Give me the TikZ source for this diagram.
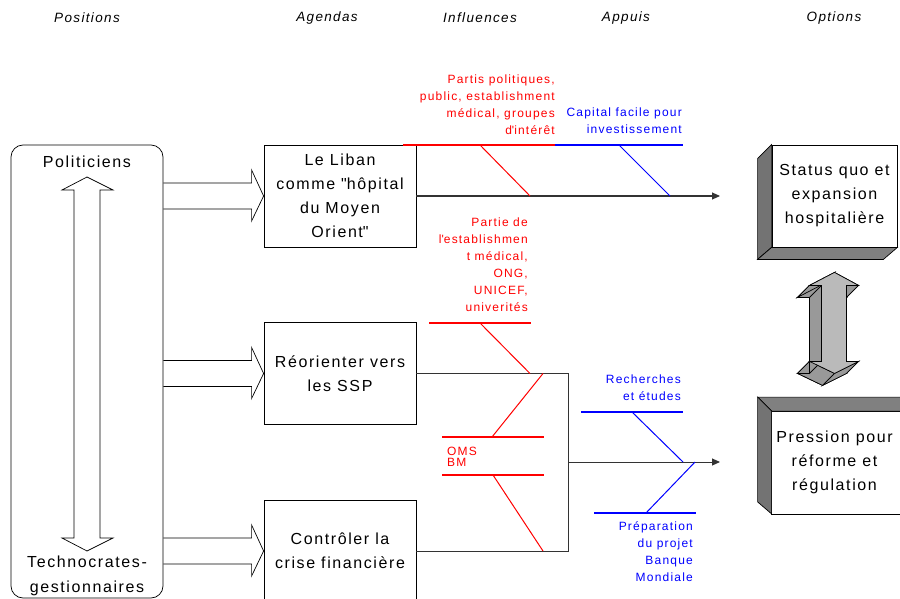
\documentclass[tikz,border=0pt]{standalone}
\usepackage{fontspec}
\setmainfont{Liberation Sans}[LetterSpace=10]
\usetikzlibrary{calc,arrows.meta}

\newcommand{\agendaarrow}[2]{%
  \draw[hollow] ($(#1.east |- #2.west)+(0,-13)$) -- ($(#2.west)+(-12,-13)$)
    -- ($(#2.west)+(-12,-26)$) -- (#2.west) -- ($(#2.west)+(-12,25)$)
    -- ($(#2.west)+(-12,13)$) -- ($(#1.east |- #2.west)+(0,13)$);}

\begin{document}
\begin{tikzpicture}[x=1pt,y=-1pt,
agenda/.style={draw,line width=0.8pt,minimum width=152pt,minimum height=102pt,inner sep=0pt,
  align=center,font=\fontsize{16}{24}\selectfont},
option/.style={draw,fill=white,line width=0.8pt,minimum width=125pt,minimum height=102pt,inner sep=0pt,
  align=center,font=\fontsize{16}{24}\selectfont},
heading/.style={font=\fontsize{13.5}{16}\selectfont\itshape},
actor/.style={font=\fontsize{16}{25}\selectfont,align=center},
hollow/.style={draw,line width=0.7pt},
spine/.style={draw=black!80,line width=1pt},
infl/.style={red,font=\fontsize{12}{17}\selectfont,align=right,anchor=north east,inner sep=0pt},
appui/.style={infl,blue},
bone/.style={line width=1.5pt},
rib/.style={line width=1pt},
face/.style={draw,fill=black!50,line width=0.7pt},
front3/.style={draw,fill=black!27,line width=0.7pt},
side3/.style={draw,fill=black!40,line width=0.7pt}]
\useasboundingbox (0,0) rectangle (900,599);

% titres
\node[heading] (hpos) at (87,18) {Positions};
\node[heading] (hage) at (327,18) {Agendas};
\node[heading] (hinf) at (480,18) {Influences};
\node[heading] (happ) at (626,18) {Appuis};
\node[heading] (hopt) at (834,18) {Options};

% positions
\node[draw,line width=0.7pt,rounded corners=12pt,minimum width=152pt,minimum height=453pt] (actors) at (87,371.5) {};
\node[actor] (poli) at (87,162) {Politiciens};
\node[actor] (techno) at (87,575.5) {Technocrates-\\gestionnaires};
\coordinate (up) at (87,177);
\coordinate (down) at (87,551);
\draw[hollow] (up) -- ($(up)+(26,13)$) -- ($(up)+(13,13)$) -- ($(down)+(13,-13)$)
  -- ($(down)+(26,-13)$) -- (down) -- ($(down)+(-25,-13)$) -- ($(down)+(-13,-13)$)
  -- ($(up)+(-13,13)$) -- ($(up)+(-25,13)$) -- cycle;

% agendas
\node[agenda] (liban) at (340,196) {Le Liban\\comme \textquotedbl hôpital\\du Moyen\\Orient\textquotedbl};
\node[agenda] (reo) at (340,373.5) {Réorienter vers\\les SSP};
\node[agenda] (ctrl) at (340,551) {Contrôler la\\crise financière};
\agendaarrow{actors}{liban}
\agendaarrow{actors}{reo}
\agendaarrow{actors}{ctrl}

% options
\node[option] (status) at (834.5,196) {Status quo et\\expansion\\hospitalière};
\filldraw[face,fill=black!55] (status.north west) -- ++(-14,14) -- ($(status.south west)+(-14,12)$) -- (status.south west) -- cycle;
\filldraw[face] (status.south west) -- ($(status.south west)+(-14,12)$) -- ($(status.south east)+(-14,12)$) -- (status.south east) -- cycle;
\node[option,draw=none] (press) at (834.5,462.5) {Pression pour\\réforme et\\régulation};
\draw[line width=0.8pt] ($(press.north east)+(20,0)$) -- (press.north west) -- (press.south west) -- ($(press.south east)+(20,0)$);
\filldraw[face] (press.north west) -- ++(-14,-14) -- ($(press.north east)+(10,-14)$) -- ($(press.north east)+(24,0)$) -- cycle;
\filldraw[face,fill=black!55] (press.north west) -- ++(-14,-14) -- ($(press.south west)+(-14,-12)$) -- (press.south west) -- cycle;

% fleche double entre les options
\coordinate (dtop) at ($(status.south)+(0,25)$);
\begin{scope}[shift={(dtop)}]
\filldraw[side3,shift={(-12,12)}] (0,0) -- (24,13) -- (12,13) -- (12,89) -- (24,89) -- (0,101)
  -- (-25,89) -- (-13,89) -- (-13,13) -- (-25,13) -- cycle;
\foreach \ax/\ay/\bx/\by in {0/0/24/13, 24/13/12/13, 12/13/12/89, 12/89/24/89, 24/89/0/101,
    0/101/-25/89, -25/89/-13/89, -13/89/-13/13, -13/13/-25/13, -25/13/0/0}
  \filldraw[side3] (\ax,\ay) -- (\bx,\by) -- (\bx-12,\by+12) -- (\ax-12,\ay+12) -- cycle;
\filldraw[front3] (0,0) -- (24,13) -- (12,13) -- (12,89) -- (24,89) -- (0,101)
  -- (-25,89) -- (-13,89) -- (-13,13) -- (-25,13) -- cycle;
\end{scope}

% aretes
\coordinate (statusin) at (720,196);
\draw[spine,-{Triangle[length=8pt,width=7pt]}] (liban.east) -- (statusin);
\coordinate (joinA) at (568,373.5);
\coordinate (joinB) at (568,551);
\coordinate (joinM) at (568,462);
\coordinate (pressin) at (720,462);
\draw[spine] (reo.east) -- (joinA) -- (joinB) -- (ctrl.east);
\draw[spine,-{Triangle[length=8pt,width=7pt]}] (joinM) -- (pressin);

% influences (rouge)
\draw[red,bone] (403,145) -- (555,145);
\draw[red,rib] (480,145) -- (530,196);
\draw[red,bone] (429,323) -- (531,323);
\draw[red,rib] (480,323) -- (530,373.5);
\draw[red,rib] (543,373.5) -- (492,437);
\draw[red,bone] (442,437) -- (544,437);
\draw[red,bone] (442,475) -- (544,475);
\draw[red,rib] (493,475) -- (543,551);
\node[infl] (partis) at (555,75) {Partis politiques,\\public, establishment\\médical, groupes\\d\textquotesingle intérêt};
\node[infl] (partie) at (528,218) {Partie de\\l\textquotesingle establishmen\\t médical,\\ONG,\\UNICEF,\\univerités};
\node[red,font=\fontsize{12}{17}\selectfont,anchor=base west,inner sep=0pt] (oms) at (447,455) {OMS};
\node[red,font=\fontsize{12}{17}\selectfont,anchor=base west,inner sep=0pt] (bm) at (447,466) {BM};

% appuis (bleu)
\draw[blue,bone] (555,145) -- (683,145);
\draw[blue,rib] (619,145) -- (670,196);
\draw[blue,bone] (581,412) -- (683,412);
\draw[blue,rib] (632,412) -- (683,462);
\draw[blue,rib] (695,462) -- (646,513);
\draw[blue,bone] (594,513) -- (696,513);
\node[appui] (capital) at (682,108) {Capital facile pour\\investissement};
\node[appui] (recherches) at (681,375) {Recherches\\et études};
\node[appui] (prep) at (693,521) {Préparation\\du projet\\Banque\\Mondiale};
\end{tikzpicture}
\end{document}
